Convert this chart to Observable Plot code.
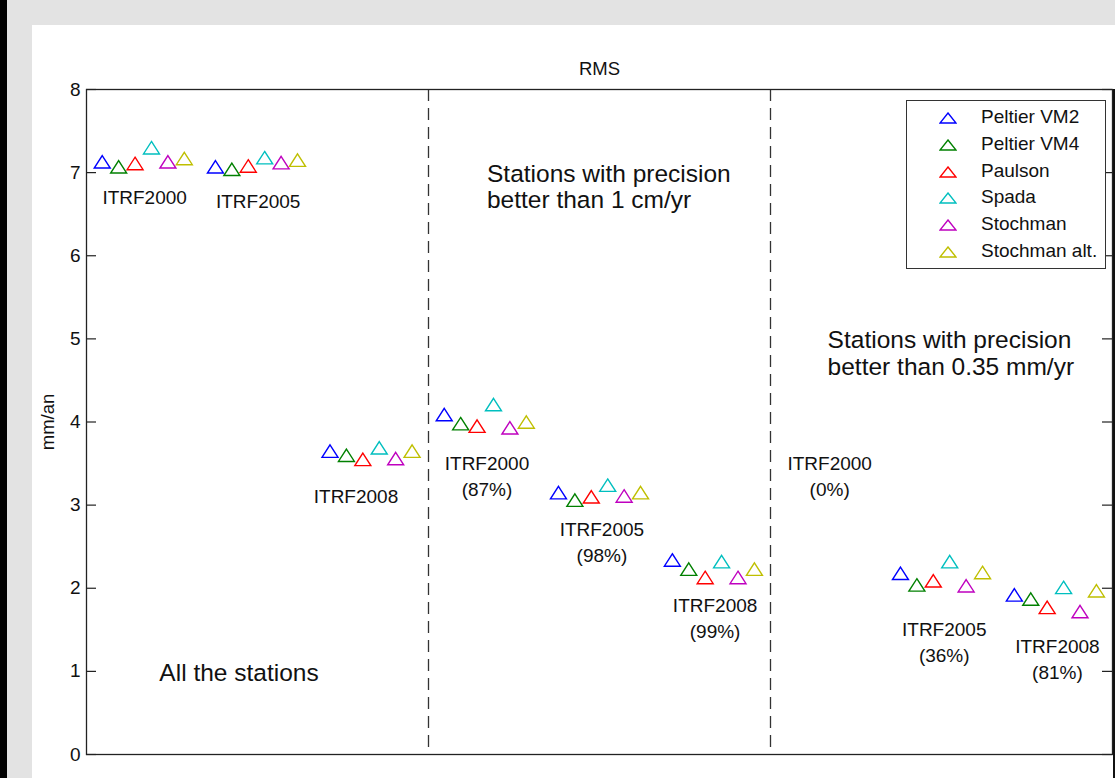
<!DOCTYPE html>
<html>
<head>
<meta charset="utf-8">
<script src="https://cdn.jsdelivr.net/npm/d3@7"></script>
<script src="https://cdn.jsdelivr.net/npm/@observablehq/plot@0.6"></script>
<style>
  html, body { margin: 0; padding: 0; }
  body { width: 1115px; height: 778px; background: #e3e3e3; position: relative; overflow: hidden;
         font-family: "Liberation Sans", Arial, sans-serif; }
  #leftbar { position: absolute; left: 0; top: 0; width: 7px; height: 778px; background: #000; }
  #rightbar { position: absolute; left: 1113px; top: 89px; width: 2px; height: 689px; background: #111; }
  #panel { position: absolute; left: 32px; top: 25px; right: 0; bottom: 0; background: #fff; }
  #chart { position: absolute; left: 32px; top: 25px; }
  #legend { position: absolute; left: 906px; top: 100px; width: 198px; height: 164px;
            border: 1px solid #333; background: #fff; padding-top: 3px; box-sizing: content-box; }
  .row { position: relative; height: 26.8px; font-size: 19px; color: #111; }
  .row svg { position: absolute; left: 32px; top: 8px; }
  .row span { position: absolute; left: 74px; top: 2px; line-height: 22px; white-space: nowrap; }
</style>
</head>
<body>
<div id="leftbar"></div>
<div id="panel"></div>
<div id="chart"></div>
<div id="rightbar"></div>
<div id="legend"></div>
<script>
// ---------- data ----------
const series = ["Peltier VM2", "Peltier VM4", "Paulson", "Spada", "Stochman", "Stochman alt."];
const colors = ["#0000ff", "#008000", "#ff0000", "#00bfbf", "#bf00bf", "#bfbf00"];

// groups that carry points (ITRF2000 with 0% of stations has none)
const groups   = ["ITRF2000", "ITRF2005", "ITRF2008", "ITRF2000 (87%)", "ITRF2005 (98%)", "ITRF2008 (99%)", "ITRF2005 (36%)", "ITRF2008 (81%)"];
const groupPos = [0.166, 0.497, 0.832, 1.166, 1.500, 1.833, 2.500, 2.833];

const peltierVM2   = [7.13, 7.07, 3.65, 4.09, 3.15, 2.34, 2.18, 1.92];
const peltierVM4   = [7.07, 7.04, 3.60, 3.98, 3.06, 2.23, 2.04, 1.87];
const paulson      = [7.11, 7.08, 3.55, 3.95, 3.10, 2.13, 2.09, 1.77];
const spada        = [7.30, 7.18, 3.69, 4.21, 3.24, 2.32, 2.32, 2.01];
const stochman     = [7.13, 7.12, 3.56, 3.93, 3.11, 2.13, 2.03, 1.72];
const stochmanAlt  = [7.17, 7.15, 3.65, 4.00, 3.15, 2.23, 2.19, 1.97];
const seriesValues = [peltierVM2, peltierVM4, paulson, spada, stochman, stochmanAlt];

const yTicks = [0, 1, 2, 3, 4, 5, 6, 7, 8];
const dividers = [1, 2];

const groupLabels = ["ITRF2000", "ITRF2005", "ITRF2008", "ITRF2000\n(87%)", "ITRF2005\n(98%)", "ITRF2008\n(99%)", "ITRF2000\n(0%)", "ITRF2005\n(36%)", "ITRF2008\n(81%)"];
const groupLabelX = [0.170, 0.502, 0.788, 1.171, 1.507, 1.838, 2.173, 2.508, 2.839];
const groupLabelY = [6.72, 6.68, 3.13, 3.37, 2.57, 1.66, 3.37, 1.37, 1.17];

const notes  = ["All the stations", "Stations with precision\nbetter than 1 cm/yr", "Stations with precision\nbetter than 0.35 mm/yr"];
const notesX = [0.213, 1.171, 2.167];
const notesY = [0.99, 6.83, 4.83];

// ---------- build ----------
const dodge = 0.048;
const points = [];
seriesValues.forEach((vals, i) => vals.forEach((v, j) => {
  points.push({series: series[i], group: groups[j], x: groupPos[j] + (i - 2.5) * dodge, y: v});
}));
const glabels = groupLabels.map((t, i) => ({t, x: groupLabelX[i], y: groupLabelY[i]}));
const nlabels = notes.map((t, i) => ({t, x: notesX[i], y: notesY[i]}));

// MATLAB-like '^' marker (wider than equilateral)
const tri = {
  draw(ctx, size) {
    const r = Math.sqrt(size / Math.PI);
    const h = 0.78 * r;
    ctx.moveTo(0, -h);
    ctx.lineTo(r, h);
    ctx.lineTo(-r, h);
    ctx.closePath();
  }
};

const W = 1083, H = 753, mL = 54, mR = 3, mT = 64, mB = 24;
const innerW = W - mL - mR;

const chart = Plot.plot({
  width: W, height: H,
  marginLeft: mL, marginRight: mR, marginTop: mT, marginBottom: mB,
  style: {fontFamily: "'Liberation Sans', Arial, sans-serif", fontSize: "19px", background: "white", color: "#111"},
  x: {domain: [0, 3], axis: null},
  y: {domain: [0, 8], ticks: yTicks, tickSize: 0, tickPadding: 6, label: null},
  color: {domain: series, range: colors},
  marks: [
    Plot.ruleX(dividers, {stroke: "#333", strokeWidth: 1.3, strokeDasharray: "12,7"}),
    Plot.ruleY(yTicks, {insetRight: innerW - 10, stroke: "#222", strokeWidth: 1.2}),
    Plot.ruleY(yTicks, {insetLeft: innerW - 10, stroke: "#222", strokeWidth: 1.2}),
    Plot.frame({stroke: "#222", strokeWidth: 1.3}),
    Plot.dot(points, {x: "x", y: "y", stroke: "series", symbol: tri, r: 8, strokeWidth: 1.4, fill: "none"}),
    Plot.text(glabels, {x: "x", y: "y", text: "t", fontSize: 19, lineHeight: 1.38, textAnchor: "middle", fill: "#111"}),
    Plot.text(nlabels, {x: "x", y: "y", text: "t", fontSize: 24.5, lineHeight: 1.08, textAnchor: "start", fill: "#111"}),
    Plot.text(["RMS"], {frameAnchor: "top", dy: -20, lineAnchor: "middle", textAnchor: "middle", text: d => d, fontSize: 18.5, fill: "#111"}),
    Plot.text(["mm/an"], {frameAnchor: "left", dx: -38, rotate: -90, lineAnchor: "middle", textAnchor: "middle", text: d => d, fontSize: 18.5, fill: "#111"})
  ]
});
document.getElementById("chart").appendChild(chart);

// ---------- legend ----------
const legend = document.getElementById("legend");
series.forEach((s, i) => {
  const row = document.createElement("div");
  row.className = "row";
  row.innerHTML = `<svg width="18" height="12"><polygon points="9,1 17,11 1,11" fill="none" stroke="${colors[i]}" stroke-width="1.4"/></svg><span>${s}</span>`;
  legend.appendChild(row);
});
</script>
</body>
</html>
